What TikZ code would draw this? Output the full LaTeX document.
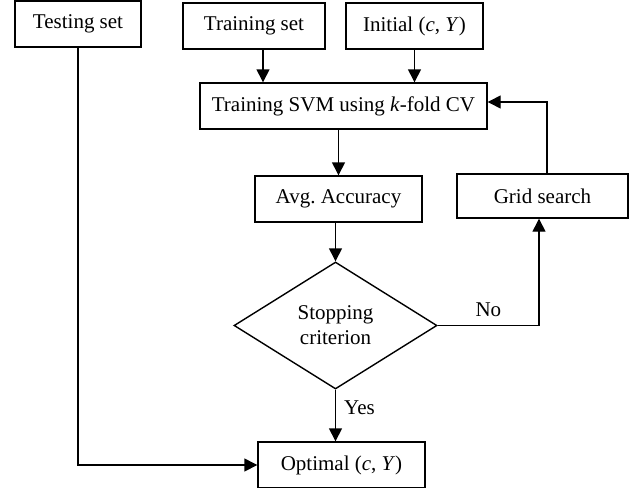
\documentclass[tikz,border=0pt]{standalone}
\usepackage{fontspec}
\setmainfont{Liberation Serif}
\usetikzlibrary{shapes,arrows.meta}
\usetikzlibrary{positioning}
\tikzstyle{line} = [draw, -{Triangle[length=6.5pt,width=6.5pt]}]
\tikzset{
    block/.style={draw=black, rectangle, minimum height=23pt, inner sep=2pt},
    decision/.style={draw=black, diamond, minimum width=101.5pt, minimum height=63.5pt,
        inner sep=0pt, align=center},
    label/.style={inner sep=2pt},
}

\begin{document}
\begin{tikzpicture}[x=0.5pt, y=-0.5pt, line width=0.7pt, font=\fontsize{10.5}{12.5}\selectfont]
    \useasboundingbox (0,0) rectangle (630,487);
	\node[block, minimum width=63pt] (testing) at (78,24) {Testing set};
	\node[block, minimum width=71pt] (training) at (254,26) {Training set};
	\node[block, minimum width=68.5pt] (initial) at (414.5,26) {Initial (\textit{c}, \textit{Y})};
	\node[block, minimum width=143.5pt] (svm) at (343.5,106) {Training SVM using \textit{k}-fold CV};
	\node[block, minimum width=83.5pt] (avg) at (338.5,199) {Avg.\ Accuracy};
	\node[block, minimum width=85.5pt, minimum height=22pt] (grid) at (542.5,196) {Grid search};
	\node[decision] (stop) at (335.5,325.5) {Stopping\\criterion};
	\node[block, minimum width=83.5pt] (optimal) at (341.5,465) {Optimal (\textit{c}, \textit{Y})};

	\draw[line] ([xshift=4.5pt]training.south) -- ([xshift=4.5pt]training.south |- svm.north);
	\draw[line] (initial.south) -- (initial.south |- svm.north);
	\draw[line] (svm.south -| avg.north) -- (avg.north);
	\draw[line] (avg.south -| stop.north) -- (stop.north);
	\draw[line] (stop.south) -- (stop.south |- optimal.north)
		node[label, right, pos=0.35, xshift=2pt] {Yes};
	\draw[line] (stop.east) -| ([xshift=-1.75pt]grid.south)
		node[label, above, pos=0.25, yshift=2pt] {No};
	\draw[line] ([xshift=2.25pt]grid.north) |- ([yshift=2pt]svm.east);
	\draw[line] (testing.south) |- (optimal.west);
\end{tikzpicture}
\end{document}
